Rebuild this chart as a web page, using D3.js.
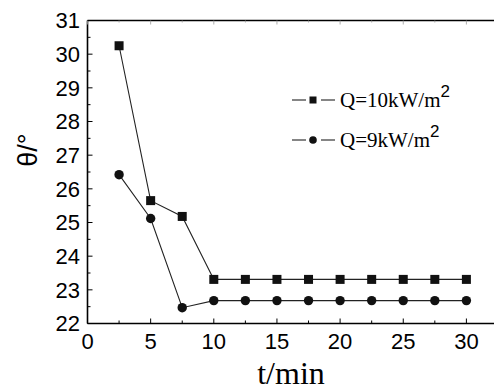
<!DOCTYPE html>
<html><head><meta charset="utf-8">
<script src="https://cdn.jsdelivr.net/npm/d3@7"></script>
<style>
body{margin:0;background:#fff}svg{display:block}
.sf{font-family:"Liberation Serif","Tinos","Times New Roman",serif}
.ss{font-family:"Liberation Sans","Arimo",Arial,sans-serif}
</style>
</head><body>
<script>
const times = [2.5,5,7.5,10,12.5,15,17.5,20,22.5,25,27.5,30];
const q10 = [30.25,25.65,25.18,23.31,23.31,23.31,23.31,23.31,23.31,23.31,23.31,23.31];
const q9  = [26.42,25.12,22.47,22.68,22.68,22.68,22.68,22.68,22.68,22.68,22.68,22.68];
const seriesNames = ["Q=10kW/m","Q=9kW/m"];
const xTicks = [0,5,10,15,20,25,30];
const yTicks = [22,23,24,25,26,27,28,29,30,31];

const W=494,H=391;
const svg=d3.select("body").append("svg").attr("width",W).attr("height",H);
const L=87.5,T=20.5,B=323.5;
const x=d3.scaleLinear().domain([0,32.5]).range([L,L+32.5*12.63]);
const y=d3.scaleLinear().domain([22,31]).range([B,T]);

const g=svg.append("g");
g.append("line").attr("x1",L).attr("x2",W+5).attr("y1",T).attr("y2",T).attr("stroke","#000").attr("stroke-width",1.3);
g.append("line").attr("x1",L).attr("x2",W+5).attr("y1",B).attr("y2",B).attr("stroke","#000").attr("stroke-width",1.6);
g.append("line").attr("x1",L).attr("x2",L).attr("y1",T).attr("y2",B).attr("stroke","#000").attr("stroke-width",1.6);

const xMinor=d3.range(0,32.6,2.5);
xMinor.forEach(v=>{
  const major=(v%5===0);
  const len=major?5:3;
  g.append("line").attr("x1",x(v)).attr("x2",x(v)).attr("y1",B).attr("y2",B-len).attr("stroke","#000").attr("stroke-width",1);
  g.append("line").attr("x1",x(v)).attr("x2",x(v)).attr("y1",T).attr("y2",T+len-1).attr("stroke","#999").attr("stroke-width",0.8);
});
const yMinor=d3.range(22,31.01,0.5);
yMinor.forEach(v=>{
  const major=Math.abs(v-Math.round(v))<1e-6;
  const len=major?5:3;
  g.append("line").attr("x1",L).attr("x2",L+len).attr("y1",y(v)).attr("y2",y(v)).attr("stroke","#000").attr("stroke-width",1);
});
xTicks.forEach(v=>{
  g.append("text").attr("class","ss").attr("x",x(v)).attr("y",349).attr("text-anchor","middle")
   .attr("font-size",22).text(v);
});
yTicks.forEach(v=>{
  g.append("text").attr("class","ss").attr("x",80).attr("y",y(v)+7.8).attr("text-anchor","end")
   .attr("font-size",22).text(v);
});
svg.append("text").attr("class","sf").attr("x",291).attr("y",384).attr("text-anchor","middle")
  .attr("font-size",32).text("t/min");
svg.append("text").attr("class","ss").attr("transform","translate(37,150) rotate(-90)").attr("text-anchor","middle")
  .attr("font-size",27).text("θ/°");

const line=d3.line().x((d,i)=>x(times[i])).y(d=>y(d));
[q10,q9].forEach(s=>{
  g.append("path").attr("d",line(s)).attr("fill","none").attr("stroke","#222").attr("stroke-width",1.1);
});
q10.forEach((v,i)=>{
  g.append("rect").attr("x",x(times[i])-4.5).attr("y",y(v)-4.5).attr("width",9).attr("height",9).attr("fill","#111");
});
q9.forEach((v,i)=>{
  g.append("circle").attr("cx",x(times[i])).attr("cy",y(v)).attr("r",4.7).attr("fill","#111");
});

const lg=svg.append("g");
const rows=[100,140];
rows.forEach((ry,k)=>{
  lg.append("line").attr("x1",292).attr("x2",306).attr("y1",ry).attr("y2",ry).attr("stroke","#222").attr("stroke-width",1.1);
  lg.append("line").attr("x1",321).attr("x2",335).attr("y1",ry).attr("y2",ry).attr("stroke","#222").attr("stroke-width",1.1);
  if(k===0) lg.append("rect").attr("x",309.5).attr("y",ry-3.5).attr("width",7).attr("height",7).attr("fill","#111");
  else lg.append("circle").attr("cx",313).attr("cy",ry).attr("r",3.8).attr("fill","#111");
  const t=lg.append("text").attr("class","sf").attr("x",340).attr("y",ry+7).attr("font-size",21);
  t.append("tspan").text(seriesNames[k]);
  t.append("tspan").attr("class","ss").attr("dy",-10).attr("font-size",17).text("2");
});
</script>
</body></html>
